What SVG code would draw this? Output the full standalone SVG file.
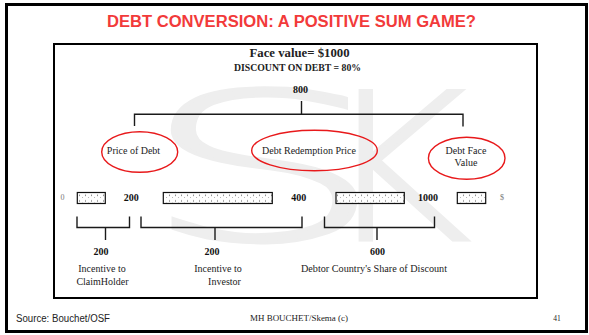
<svg xmlns="http://www.w3.org/2000/svg" width="589" height="335" viewBox="0 0 589 335">
<style>
.serif{font-family:"Liberation Serif","Times New Roman",serif;fill:#222}
.lbl{font-size:10px;text-anchor:middle}
.num{font-size:10px;font-weight:bold;text-anchor:middle;fill:#111}
.small{font-size:8px;text-anchor:middle;fill:#777}
.ell{fill:none;stroke:#e8191b;stroke-width:1.4}
.ln{fill:none;stroke:#1a1a1a;stroke-width:1.4}
.bar{fill:url(#dots);stroke:#111;stroke-width:1.2}
.wm{font-family:"DejaVu Sans",sans-serif;font-weight:200;font-size:205px;fill:#eeeeee;stroke:#eeeeee;stroke-width:3}
</style>
<defs>
<pattern id="dots" patternUnits="userSpaceOnUse" x="0" y="192.5" width="6" height="5.5">
<rect width="6" height="5.5" fill="#fff"/>
<circle cx="1.5" cy="2.8" r="0.55" fill="#333"/>
<circle cx="4.5" cy="5.5" r="0.55" fill="#333"/>
</pattern>
</defs>
<rect x="0" y="0" width="589" height="335" fill="#fff"/>
<rect x="6.5" y="4.5" width="580" height="327" fill="none" stroke="#000" stroke-width="3"/>
<text x="291.5" y="26.5" font-family="'Liberation Sans',Arial,sans-serif" font-weight="bold" font-size="16" fill="#f23a3a" text-anchor="middle" textLength="369" lengthAdjust="spacingAndGlyphs">DEBT CONVERSION: A POSITIVE SUM GAME?</text>
<rect x="54" y="44" width="483" height="254" fill="#fff" stroke="#000" stroke-width="2"/>
<g id="watermark">
<text class="wm" transform="translate(139,240) scale(1.9,1)">S</text>
<text class="wm" transform="translate(321,240) scale(1.11,1)">K</text>
</g>
<g id="header" class="serif">
<text x="299.5" y="57" font-size="12.5" font-weight="bold" text-anchor="middle" textLength="100" lengthAdjust="spacingAndGlyphs">Face value= $1000</text>
<text x="297.5" y="71" font-size="10" font-weight="bold" text-anchor="middle" textLength="127" lengthAdjust="spacingAndGlyphs">DISCOUNT ON DEBT = 80%</text>
<text class="num" x="300.5" y="93">800</text>
</g>
<g id="connectors">
<line class="ln" x1="301.5" y1="101" x2="301.5" y2="114.3"/>
<polyline class="ln" points="134.5,126 134.5,114.3 463,114.3 463,126.5"/>
<polyline class="ln" points="77,216.5 77,227.5 129.5,227.5 129.5,216.5"/>
<line class="ln" x1="105.5" y1="227.5" x2="105.5" y2="240"/>
<polyline class="ln" points="141,216.5 141,227.5 302,227.5 302,216.5"/>
<line class="ln" x1="215" y1="227.5" x2="215" y2="240"/>
<polyline class="ln" points="324.5,216.5 324.5,227.5 434.5,227.5 434.5,216.5"/>
<line class="ln" x1="377" y1="227.5" x2="377" y2="240"/>
</g>
<g id="price-of-debt">
<ellipse class="ell" cx="139.7" cy="152" rx="38" ry="20.3"/>
<text class="serif lbl" x="133.5" y="153.5">Price of Debt</text>
</g>
<g id="debt-redemption-price">
<ellipse class="ell" cx="314.5" cy="150.5" rx="62.8" ry="20.3"/>
<text class="serif lbl" x="309" y="154">Debt Redemption Price</text>
</g>
<g id="debt-face-value">
<ellipse class="ell" cx="466.7" cy="158.3" rx="38.3" ry="21"/>
<text class="serif lbl" x="466" y="153.5">Debt Face</text>
<text class="serif lbl" x="466" y="165.5">Value</text>
</g>
<g id="scale">
<text class="serif small" x="62.5" y="200">0</text>
<rect class="bar" x="77.3" y="192.5" width="28" height="11"/>
<text class="serif num" x="131.3" y="200.5">200</text>
<rect class="bar" x="163.3" y="192.5" width="109" height="11"/>
<text class="serif num" x="298.7" y="200.5">400</text>
<rect class="bar" x="336" y="192.5" width="68.3" height="11"/>
<text class="serif num" x="428" y="200.5">1000</text>
<rect class="bar" x="457.3" y="192.5" width="28.4" height="11"/>
<text class="serif small" x="502" y="200">$</text>
</g>
<g id="claimholder">
<text class="serif num" x="101" y="255">200</text>
<text class="serif lbl" x="102" y="271.5">Incentive to</text>
<text class="serif lbl" x="102.5" y="285">ClaimHolder</text>
</g>
<g id="investor">
<text class="serif num" x="212" y="255">200</text>
<text class="serif lbl" x="218" y="271.5">Incentive to</text>
<text class="serif lbl" x="224.5" y="285">Investor</text>
</g>
<g id="debtor-country">
<text class="serif num" x="377.5" y="255">600</text>
<text class="serif lbl" x="374" y="271.5" textLength="146" lengthAdjust="spacingAndGlyphs">Debtor Country's Share of Discount</text>
</g>
<g id="footer">
<text x="16" y="322" font-family="'Liberation Sans',Arial,sans-serif" font-size="10" fill="#222" textLength="94" lengthAdjust="spacingAndGlyphs">Source: Bouchet/OSF</text>
<text class="serif" x="299" y="321" font-size="7.5" text-anchor="middle" textLength="98" lengthAdjust="spacingAndGlyphs">MH BOUCHET/Skema (c)</text>
<text class="serif" x="557" y="321" font-size="7.5" text-anchor="middle" fill="#444">41</text>
</g>
</svg>
